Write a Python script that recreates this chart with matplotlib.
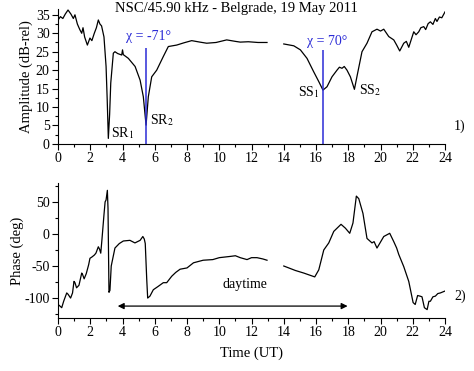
import matplotlib
matplotlib.use('Agg')
import matplotlib.pyplot as plt
import matplotlib.ticker as ticker

plt.rcParams['font.family'] = ['Liberation Serif', 'DejaVu Serif']
plt.rcParams['mathtext.fontset'] = 'stix'
plt.rcParams['axes.unicode_minus'] = False

# --- Amplitude (dB-rel), panel 1 ---
amp_t1 = [0.0, 0.15, 0.3, 0.45, 0.62, 0.8, 0.95, 1.05, 1.2, 1.35, 1.47, 1.55, 1.65, 1.82, 1.98,
          2.1, 2.25, 2.38, 2.5, 2.6, 2.7, 2.85, 2.98, 3.05, 3.12, 3.2, 3.27, 3.43, 3.53, 3.7,
          3.95, 4.0, 4.05, 4.36, 4.78, 5.09, 5.29, 5.46, 5.6, 5.81, 6.12, 6.53, 6.84, 7.36,
          7.8, 8.29, 8.8, 9.22, 9.8, 10.46, 11.0, 11.3, 11.8, 12.4, 12.96]
amp_v1 = [33.6, 34.5, 34.0, 35.2, 36.3, 35.2, 34.0, 35.0, 32.5, 31.0, 30.0, 31.5, 29.0, 26.8, 28.7,
          28.0, 30.0, 31.5, 33.6, 32.5, 32.0, 29.0, 21.0, 12.0, 1.5, 8.0, 16.5, 24.6, 25.0, 24.5,
          24.1, 25.5, 24.2, 23.2, 21.0, 17.3, 12.8, 5.1, 12.8, 18.2, 20.0, 23.7, 26.4, 26.8,
          27.4, 28.0, 27.6, 27.3, 27.5, 28.2, 27.8, 27.6, 27.7, 27.5, 27.5]
amp_t2 = [14.0, 14.62, 15.03, 15.44, 15.85, 16.17, 16.43, 16.68, 16.99, 17.3, 17.45, 17.61,
          17.75, 17.92, 18.13, 18.38, 18.58, 18.85, 19.16, 19.47, 19.78, 20.0, 20.2, 20.51,
          20.82, 21.0, 21.19, 21.44, 21.6, 21.75, 22.06, 22.2, 22.37, 22.5, 22.68, 22.8,
          22.95, 23.09, 23.25, 23.4, 23.5, 23.65, 23.8, 24.0]
amp_v2 = [27.1, 26.6, 25.5, 23.2, 19.6, 16.9, 14.6, 15.5, 18.2, 20.0, 20.8, 20.5,
          21.0, 20.0, 18.2, 14.8, 19.2, 25.0, 27.3, 30.4, 31.1, 30.6, 31.1, 29.1,
          28.2, 26.8, 25.2, 27.3, 27.8, 26.2, 30.4, 29.6, 30.4, 31.5, 31.8, 31.0,
          32.6, 33.1, 32.4, 34.0, 33.2, 34.4, 34.2, 35.8]

# --- Phase (deg), panel 2 ---
ph_t1 = [0.0, 0.1, 0.23, 0.35, 0.54, 0.62, 0.78, 0.9, 0.99, 1.05, 1.15, 1.3, 1.47, 1.52, 1.62,
         1.75, 1.9, 1.98, 2.1, 2.25, 2.35, 2.5, 2.58, 2.65, 2.72, 2.85, 2.92, 2.98, 3.06, 3.1,
         3.16, 3.22, 3.3, 3.53, 3.8, 4.05, 4.46, 4.77, 5.09, 5.26, 5.35, 5.41, 5.5, 5.56,
         5.7, 5.91, 6.2, 6.53, 6.74, 7.05, 7.3, 7.57, 8.0, 8.4, 9.0, 9.6, 10.0, 10.7, 11.0,
         11.3, 11.72, 12.0, 12.34, 12.7, 12.96]
ph_v1 = [-110, -112, -115, -105, -92, -94, -100, -92, -74, -76, -84, -80, -61, -63, -70,
         -62, -48, -38, -36, -33, -30, -20, -24, -30, -10, 30, 50, 53, 68, 40,
         -91, -88, -50, -22, -15, -11, -10, -14, -10, -4, -8, -15, -70, -100,
         -97, -87, -82, -76, -76, -66, -60, -55, -53, -45, -41, -40, -37, -35, -34,
         -37, -40, -37, -37, -39, -41]
ph_t2 = [14.0, 14.72, 15.24, 15.92, 16.17, 16.48, 16.79, 17.1, 17.55, 17.82, 18.09, 18.29,
         18.5, 18.65, 18.91, 19.16, 19.47, 19.6, 19.78, 20.2, 20.57, 20.82, 21.0, 21.13,
         21.44, 21.75, 22.02, 22.15, 22.3, 22.45, 22.57, 22.72, 22.89, 23.0, 23.09, 23.25,
         23.4, 23.55, 23.71, 24.0]
ph_v2 = [-50, -57, -61, -67, -56, -25, -14, 4, 15, 9, 1, 17,
         59, 55, 32, -7, -14, -12, -22, -4, 1, -12, -22, -32,
         -51, -74, -107, -110, -96, -97, -98, -115, -118, -105, -105, -98,
         -97, -93, -92, -89]

# annotations
chi_times = [5.46, 16.43]
chi_labels = ['χ = -71°', 'χ = 70°']
xticks = list(range(0, 25, 2))

fig = plt.figure(figsize=(4.74, 3.71), dpi=100)
ax1 = fig.add_axes([0.1224, 0.612, 0.8165, 0.363])
ax2 = fig.add_axes([0.1224, 0.143, 0.8165, 0.363])

blue = '#2b2bd6'
lw = 0.9
fs = 10

fig.text(0.498, 1 - 8.5 / 371, 'NSC/45.90 kHz - Belgrade, 19 May 2011',
         fontsize=10.5, ha='center', va='center')

ax1.plot(amp_t1, amp_v1, color='black', lw=lw)
ax1.plot(amp_t2, amp_v2, color='black', lw=lw)
ax1.vlines(chi_times[0], 0, 25.9, color=blue, lw=1.1)
ax1.vlines(chi_times[1], 0, 25.5, color=blue, lw=1.1)
ax1.text(5.6, 29.0, chi_labels[0], color=blue, fontsize=fs, ha='center', va='center')
ax1.text(16.7, 27.9, chi_labels[1], color=blue, fontsize=fs, ha='center', va='center')
ax1.text(3.3, 3.0, 'SR$_1$', fontsize=fs, ha='left', va='center')
ax1.text(5.7, 6.5, 'SR$_2$', fontsize=fs, ha='left', va='center')
ax1.text(16.25, 14.0, 'SS$_1$', fontsize=fs, ha='right', va='center')
ax1.text(18.65, 14.5, 'SS$_2$', fontsize=fs, ha='left', va='center')
ax1.text(24.55, 4.7, '1)', fontsize=fs, ha='left', va='center', clip_on=False)
ax1.set_ylim(0, 36.5)
ax1.set_ylabel('Amplitude (dB-rel)', fontsize=10.5, labelpad=2)
ax1.yaxis.set_major_locator(ticker.MultipleLocator(5))
ax1.yaxis.set_minor_locator(ticker.MultipleLocator(2.5))

ax2.plot(ph_t1, ph_v1, color='black', lw=lw)
ax2.plot(ph_t2, ph_v2, color='black', lw=lw)
ax2.annotate('', xy=(3.53, -112.5), xytext=(18.13, -112.5),
             arrowprops=dict(arrowstyle='<|-|>', color='black', lw=0.9,
                             mutation_scale=9))
ax2.text(11.6, -79, 'daytime', fontsize=fs, ha='center', va='center')
ax2.text(24.55, -97, '2)', fontsize=fs, ha='left', va='center', clip_on=False)
ax2.set_ylim(-131, 79)
ax2.set_ylabel('Phase (deg)', fontsize=10.5, labelpad=0)
ax2.set_xlabel('Time (UT)', fontsize=10.5, labelpad=5)
ax2.yaxis.set_major_locator(ticker.MultipleLocator(50))
ax2.yaxis.set_minor_locator(ticker.MultipleLocator(25))

for ax in (ax1, ax2):
    ax.set_xlim(0, 24)
    ax.set_xticks(xticks)
    ax.xaxis.set_minor_locator(ticker.MultipleLocator(1))
    ax.spines['top'].set_visible(False)
    ax.spines['right'].set_visible(False)
    ax.tick_params(which='major', length=4, width=0.8, labelsize=10, pad=2)
    ax.tick_params(which='minor', length=2.5, width=0.8)

fig.savefig('out.png', dpi=100)
